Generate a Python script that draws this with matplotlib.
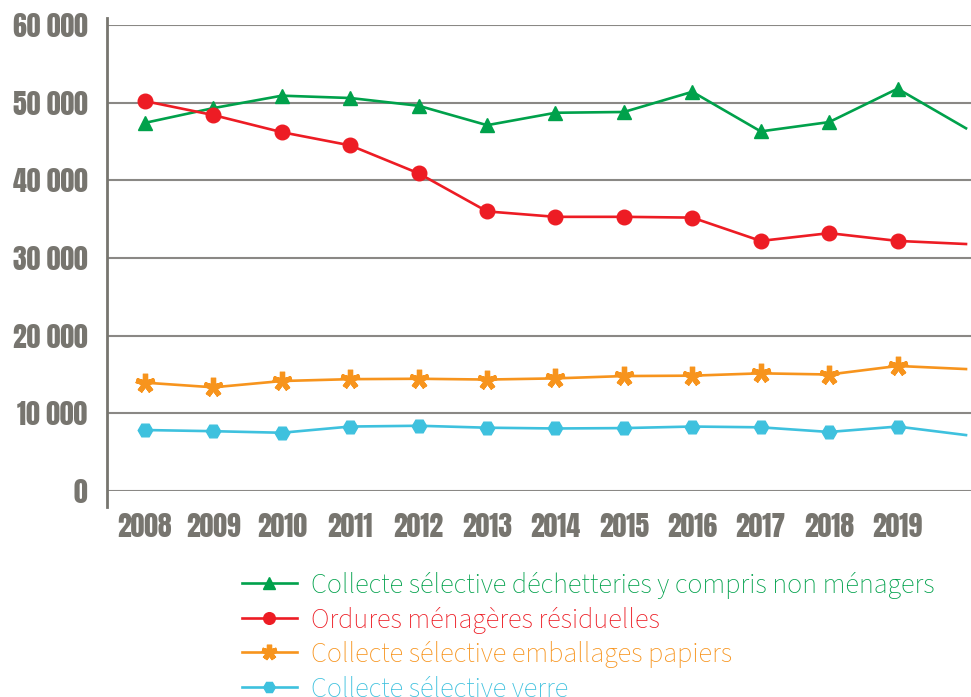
import matplotlib
matplotlib.use("Agg")
import matplotlib.pyplot as plt
from matplotlib.lines import Line2D

years = [2008, 2009, 2010, 2011, 2012, 2013, 2014, 2015, 2016, 2017, 2018, 2019, 2020]
tick_years = [2008, 2009, 2010, 2011, 2012, 2013, 2014, 2015, 2016, 2017, 2018, 2019]
tick_labels = [str(y) for y in tick_years]
yticks = [0, 10000, 20000, 30000, 40000, 50000, 60000]
ytick_labels = ["0", "10 000", "20 000", "30 000", "40 000", "50 000", "60 000"]

dechetteries = [47400, 49300, 50900, 50600, 49600, 47100, 48700, 48800, 51400, 46300, 47500, 51800, 46700]
omr = [50200, 48400, 46200, 44500, 40900, 36000, 35300, 35300, 35200, 32200, 33200, 32200, 31800]
emballages = [13950, 13350, 14160, 14400, 14450, 14350, 14500, 14800, 14850, 15150, 15000, 16100, 15700]
verre = [7850, 7700, 7500, 8300, 8400, 8150, 8050, 8100, 8300, 8200, 7600, 8300, 7200]

labels = [
    "Collecte sélective déchetteries y compris non ménagers",
    "Ordures ménagères résiduelles",
    "Collecte sélective emballages papiers",
    "Collecte sélective verre",
]
colors = ["#00a14b", "#ed1c24", "#f7941d", "#3ec1de"]
grey = "#77756f"

W, H = 971, 697
fig = plt.figure(figsize=(W / 100, H / 100), dpi=100)
ax = fig.add_axes([107 / W, 1 - 491 / H, (W - 107) / W, 466 / H])

series = [dechetteries, omr, emballages, verre]
markers = ["^", "o", (5, 2, 0), "H"]
msizes = [10.5, 10.5, 14, 10.5]
mews = [1, 1, 3.8, 1]
handles = []
for vals, lab, col, mk, ms, mew in zip(series, labels, colors, markers, msizes, mews):
    # markers only on 2008-2019 (last point has no marker)
    ln, = ax.plot(years, vals, color=col, lw=1.9, marker=mk, ms=ms,
                  markevery=list(range(len(years) - 1)),
                  mec=col, mfc=col, mew=mew,
                  label=lab, clip_on=False, zorder=3)
    handles.append(ln)

ax.set_xlim(2007.445, 2020.073)
ax.set_ylim(0, 60000)
ax.set_yticks(yticks)
ax.set_yticklabels(ytick_labels)
ax.set_xticks(tick_years)
ax.set_xticklabels(tick_labels)
ax.yaxis.grid(True, color="#8a8885", lw=1.5)
ax.set_axisbelow(True)
for s in ax.spines.values():
    s.set_visible(False)
ax.tick_params(length=0)
tick_family = ["Anton", "DejaVu Sans"]
for t in ax.get_yticklabels() + ax.get_xticklabels():
    t.set_fontfamily(tick_family)
    t.set_fontsize(20)
    t.set_color(grey)
ax.tick_params(axis="y", pad=14)
ax.tick_params(axis="x", pad=15.5)

# left axis line extending slightly beyond plot area
ax.add_line(Line2D([0, 0], [-16 / 466, 1 + 7 / 466], transform=ax.transAxes,
                   color=grey, lw=2, clip_on=False))

leg = fig.legend(handles=handles, loc="upper left",
                 bbox_to_anchor=(242 / W, 1 - 572 / H),
                 frameon=False, prop={"family": ["Source Sans 3", "DejaVu Sans"], "size": 20.3},
                 handlelength=1.95, handletextpad=0.5, labelspacing=0.27,
                 labelcolor="linecolor", markerscale=0.8, borderaxespad=0, borderpad=0)

fig.savefig("out.png", dpi=100)
